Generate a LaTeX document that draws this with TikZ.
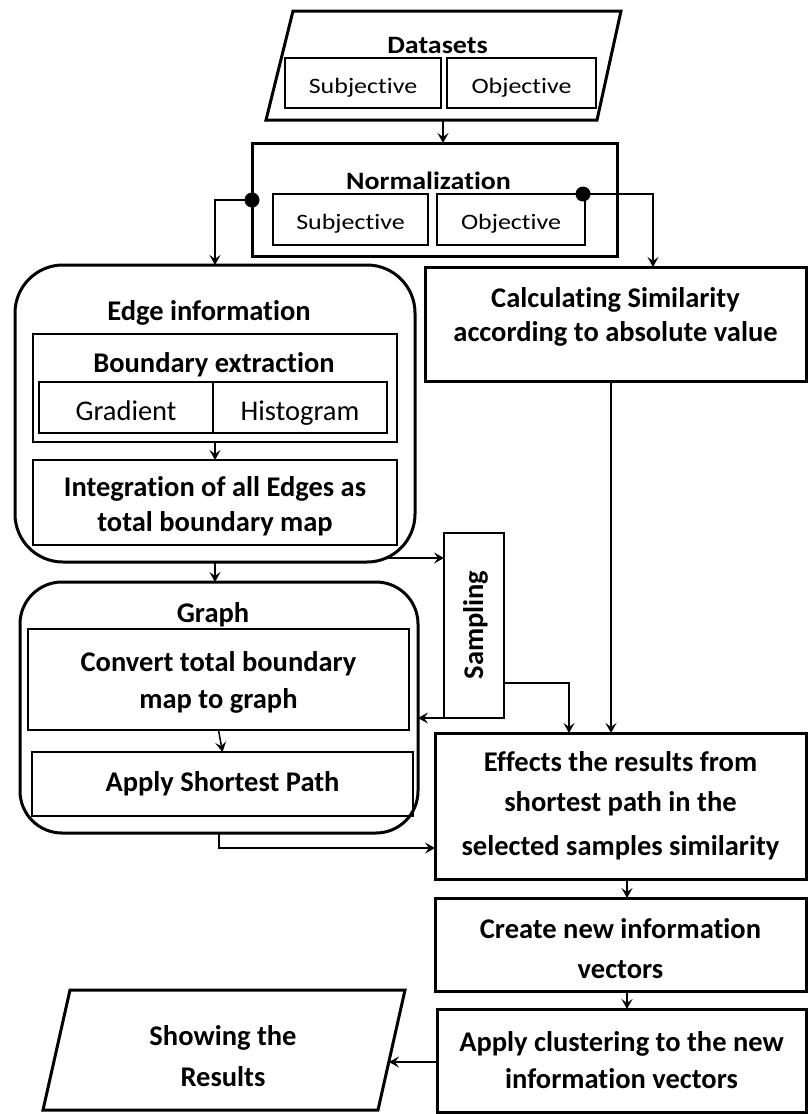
\documentclass[tikz,border=0pt]{standalone}
\usepackage{fontspec}
\setmainfont{Carlito}[Ligatures=NoCommon]
\newfontfamily\headfont{Carlito}[FakeStretch=1.12, Ligatures=NoCommon]
\newfontfamily\partfont{Carlito}[FakeStretch=1.18, Ligatures=NoCommon]
\usetikzlibrary{arrows.meta,calc}

\begin{document}
\begin{tikzpicture}[x=1pt,y=-1pt,
  every node/.style={inner sep=0pt, outer sep=0pt},
  % rectangle spanning the corners (x1,y1) and (x2,y2)
  span/.style n args={4}{at={({(#1+#3)/2},{(#2+#4)/2})}, anchor=center,
    minimum width={(#3)-(#1)}, minimum height={(#4)-(#2)}},
  heavy/.style={draw, line width=3pt, align=center,
    font=\bfseries\fontsize{28.5}{40}\selectfont},
  light/.style={draw, line width=1.3pt, align=center,
    font=\bfseries\fontsize{28.5}{40}\selectfont},
  plain/.style={draw, line width=1.3pt, text height=25pt, text depth=0pt,
    font=\fontsize{28.5}{34}\selectfont},
  part/.style={draw, line width=1.3pt, text height=20pt, text depth=0pt,
    font=\partfont\fontsize{22}{26}\selectfont},
  group/.style={draw, line width=3pt},
  title/.style={anchor=base, font=\bfseries\fontsize{28.5}{40}\selectfont},
  headtitle/.style={anchor=base, font=\headfont\bfseries\fontsize{25}{30}\selectfont},
  flow/.style={line width=1.5pt, -{Stealth[length=10pt,width=11pt,inset=4pt]}},
  dot/.style={circle, fill=black, minimum size=15pt}
]
\fill[white] (0,0) rectangle (809,1114);
\useasboundingbox (0,0) rectangle (809,1114);

% ---------- input data ----------
\draw[line width=3pt, line join=miter] (293,11) -- (621,11) -- (597,120) -- (266,120) -- cycle;
\node[headtitle] (dstitle) at (437.5,53) {Datasets};
\node[part, span={285}{58}{441}{108}] (dssub) {Subjective};
\node[part, span={447}{58}{596}{108}] (dsobj) {Objective};
\coordinate (dsbase) at (443,121);

% ---------- normalization ----------
\node[group, span={252}{143}{617}{256}] (norm) {};
\node[headtitle] (normtitle) at (428.5,189) {Normalization};
\node[part, span={273}{194}{428}{245}] (normsub) {Subjective};
\node[part, span={437}{194}{585}{245}] (normobj) {Objective};

% ---------- similarity branch ----------
\node[heavy, span={425}{267}{806}{381}, font=\bfseries\fontsize{28.5}{34}\selectfont] (calc)
  {Calculating Similarity\\according to absolute value\\[-14pt]\mbox{}};

% ---------- edge information ----------
\node[group, rounded corners=48pt, span={15}{265}{415}{562}] (edge) {};
\node[title] (edgetitle) at (209,320) {Edge information};
\node[draw, line width=1.3pt, span={33}{334}{397}{442}] (bnd) {};
\node[title] (bndtitle) at (214,372) {Boundary extraction};
\node[plain, span={39}{382}{213}{433}] (grad) {Gradient};
\node[plain, span={213}{382}{387}{433}] (hist) {Histogram};
\node[light, span={33}{460}{397}{545}, font=\bfseries\fontsize{28.5}{35}\selectfont] (integ)
  {\mbox{}\\[-7pt]Integration of all Edges as\\total boundary map};

% ---------- sampling ----------
\node[draw, line width=2.6pt, span={444}{533}{504}{718}] (samp) {};
\node[title, rotate=90] (samplabel) at (483,625) {Sampling};

% ---------- graph ----------
\node[group, rounded corners=42pt, span={20}{582}{418}{833}] (graph) {};
\node[title] (graphtitle) at (213,622) {Graph};
\node[light, span={28}{629}{409}{730}, font=\bfseries\fontsize{28.5}{37}\selectfont] (conv)
  {\mbox{}\\[-11pt]Convert total boundary\\map to graph};
\node[light, span={32}{752}{413}{816}] (spath) {Apply Shortest Path};

% ---------- right column ----------
\node[heavy, span={435}{733}{806}{879}] (effects)
  {Effects the results from\\shortest path in the\\[4pt]selected samples similarity};
\node[heavy, span={435}{898}{806}{991}] (create)
  {\mbox{}\\[-12pt]Create new information\\vectors};
\node[heavy, span={437}{1009}{806}{1112}, font=\bfseries\fontsize{28.5}{37}\selectfont] (clust)
  {Apply clustering to the new\\information vectors};

% ---------- output ----------
\draw[line width=3pt, line join=miter] (70,990) -- (405,990) -- (378,1110) -- (43,1110) -- cycle;
\node[align=center, font=\bfseries\fontsize{28.5}{41}\selectfont] (show) at (223,1056)
  {Showing the\\Results};
\coordinate (showin) at (389,1062);

% ---------- connectors ----------
\draw[flow] (dsbase) -- (dsbase |- norm.north);

\coordinate (dotLc) at (252,200);
\coordinate (dotRc) at (583,194);
\coordinate (turnL) at (215,200);
\coordinate (turnR) at (653,194);
\draw[flow] (dotLc) -- (turnL) -- (turnL |- edge.north);
\draw[flow] (dotRc) -- (turnR) -- (turnR |- calc.north);
\node[dot] (dotL) at (dotLc) {};
\node[dot] (dotR) at (dotRc) {};

\coordinate (simx) at (611,0);
\draw[flow] (calc.south -| simx) -- (effects.north -| simx);

\draw[flow] (bnd.south) -- (integ.north);
\draw[flow] (edge.south) -- (edge.south |- graph.north);
\coordinate (edgeout) at ($(edge.south east)+(-28,-4)$);
\draw[flow] (edgeout) -- (edgeout -| samp.west);

\coordinate (sampout) at ($(samp.south east)+(0,-35)$);
\coordinate (sampx) at (569,0);
\draw[flow] (sampout) -| (sampx |- effects.north);
\draw[flow] (samp.south west) -- (samp.south west -| graph.east);

\draw[flow] (conv.south) -- (spath.north);
\coordinate (graphout) at (0,848);
\draw[flow] (graph.south) |- (graphout -| effects.west);

\coordinate (colx) at (627,0);
\draw[flow] (effects.south -| colx) -- (create.north -| colx);
\draw[flow] (create.south -| colx) -- (clust.north -| colx);
\draw[flow] (clust.west |- showin) -- (showin);
\end{tikzpicture}
\end{document}
